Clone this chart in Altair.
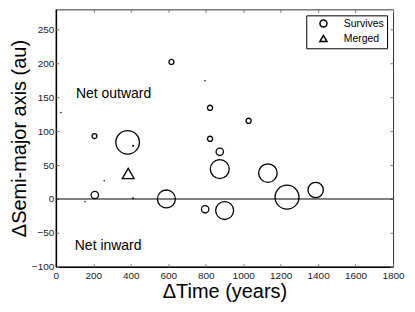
import altair as alt
import pandas as pd

# ---- data ----
# hollow markers (circles survive, triangle merged)
t_years = [206, 383, 617, 823, 1029, 823, 875, 208, 590, 797, 875, 901, 1132, 1234, 1387, 386]
da_au = [92.9, 83.7, 202.4, 134.6, 115.4, 88.8, 69.7, 5.9, 0.0, -15.2, 44.2, -17.0, 38.3, 2.7, 13.3, 37.6]
mass = [0.42, 9.3, 0.42, 0.45, 0.45, 0.45, 0.92, 0.92, 5.4, 0.92, 6.0, 5.4, 5.77, 9.6, 3.95, 2.4]
fate = ["Survives"] * 15 + ["Merged"]

# tiny (filled) survivors
dot_t = [27, 412, 796, 258, 155, 412]
dot_da = [127.8, 78.6, 174.7, 27.0, -4.0, 1.0]
dot_mass = [0.04, 0.08, 0.04, 0.04, 0.04, 0.06]

# annotations
note_text = ["Net outward", "Net inward"]
note_t = [107, 101]
note_da = [148.5, -76.0]

x_ticks = [0, 200, 400, 600, 800, 1000, 1200, 1400, 1600, 1800]
y_ticks = [-100, -50, 0, 50, 100, 150, 200, 250]

W, H = 338, 258
FONT = "Liberation Sans"

main_df = pd.DataFrame({"t": t_years, "da": da_au, "mass": mass, "fate": fate})
dot_df = pd.DataFrame({"t": dot_t, "da": dot_da, "mass": dot_mass})
note_df = pd.DataFrame({"t": note_t, "da": note_da, "label": note_text})
zero_df = pd.DataFrame({"da": [0]})

xs = alt.Scale(domain=[0, 1800], nice=False, zero=False)
ys = alt.Scale(domain=[-100, 280], nice=False, zero=False)
ss = alt.Scale(type="linear", domain=[0, 10], range=[0, 600])


def tick_axis(orient, offset, values):
    return alt.Axis(orient=orient, offset=offset, values=values, labels=False,
                    domain=False, ticks=True, tickSize=3, tickColor="#777",
                    tickWidth=1, grid=False, title=None)


main_x = alt.Axis(orient="bottom", values=x_ticks, format="d", ticks=False, tickSize=0,
                  labelPadding=4, labelFlush=False, labelFontSize=10,
                  labelColor="#222", domainColor="black", domainWidth=1.5,
                  grid=False, title="\u0394Time (years)", titleFontSize=20,
                  titleFontWeight="normal", titleColor="black", titlePadding=1)
main_y = alt.Axis(orient="left", values=y_ticks, format="d", ticks=False, tickSize=0,
                  labelPadding=2, labelFontSize=10, labelColor="#222",
                  domainColor="black", domainWidth=1.5, grid=False,
                  title="\u0394Semi-major axis (au)", titleFontSize=20,
                  titleFontWeight="normal", titleColor="black", titlePadding=2)

rule = alt.Chart(zero_df).mark_rule(color="black", strokeWidth=1).encode(
    y=alt.Y("da:Q", scale=ys, axis=None)
)

hollow = alt.Chart(main_df).mark_point(filled=False, color="black", strokeWidth=1.3, opacity=1).encode(
    x=alt.X("t:Q", scale=xs, axis=main_x),
    y=alt.Y("da:Q", scale=ys, axis=main_y),
    size=alt.Size("mass:Q", scale=ss, legend=None),
    shape=alt.Shape("fate:N",
                    scale=alt.Scale(domain=["Survives", "Merged"], range=["circle", "triangle-up"]),
                    legend=alt.Legend(title=None, orient="top-right", offset=6, padding=3,
                                      strokeColor="black", fillColor="white",
                                      symbolStrokeColor="black", symbolStrokeWidth=1.5,
                                      symbolSize=50, symbolOffset=9, labelOffset=15,
                                      rowPadding=2, labelFontSize=10.5, labelColor="black",
                                      labelFont=FONT)),
)

dots = alt.Chart(dot_df).mark_point(filled=True, color="black", strokeWidth=0, opacity=1).encode(
    x=alt.X("t:Q", scale=xs, axis=tick_axis("top", -H, x_ticks)),
    y=alt.Y("da:Q", scale=ys, axis=tick_axis("right", -W, y_ticks)),
    size=alt.Size("mass:Q", scale=ss, legend=None),
)

notes = alt.Chart(note_df).mark_text(align="left", baseline="alphabetic", fontSize=14,
                                     font=FONT, color="black").encode(
    x=alt.X("t:Q", scale=xs, axis=tick_axis("bottom", -H, x_ticks)),
    y=alt.Y("da:Q", scale=ys, axis=tick_axis("left", -W, y_ticks)),
    text="label:N",
)

chart = alt.layer(rule, hollow, dots, notes).resolve_axis(
    x="independent", y="independent"
).properties(
    width=W, height=H,
    autosize=alt.AutoSizeParams(type="none"),
    padding={"left": 48, "top": 1, "right": 14, "bottom": 36},
).configure(font=FONT).configure_view(stroke="#333", strokeWidth=1)

chart.save("out.html", embed_options={"renderer": "svg", "actions": False})
